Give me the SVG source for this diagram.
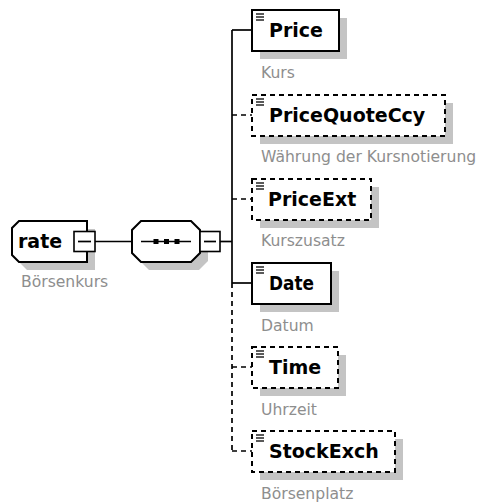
<svg xmlns="http://www.w3.org/2000/svg" width="484" height="504" viewBox="0 0 484 504">
  <style>
    .shadow { fill: #c4c4c4; stroke: none; }
    .box { fill: #ffffff; stroke: #000000; stroke-width: 2; }
    .opt { fill: #ffffff; stroke: #000000; stroke-width: 2; stroke-dasharray: 5 4; }
    .line { fill: none; stroke: #000000; stroke-width: 1.7; }
    .dash { fill: none; stroke: #000000; stroke-width: 1.7; stroke-dasharray: 5 4; }
    .name { font-family: "DejaVu Sans", Verdana, sans-serif; font-weight: bold; font-size: 19px; fill: #000000; }
    .doc { font-family: "DejaVu Sans", Verdana, sans-serif; font-size: 15.6px; fill: #8e8e8e; }
    .icon { stroke: #000000; stroke-width: 1.3; }
  </style>
  <defs>
    <g id="icon-lines">
      <line class="icon" x1="0" y1="0" x2="8" y2="0"/>
      <line class="icon" x1="0" y1="3" x2="8" y2="3"/>
      <line class="icon" x1="0" y1="6" x2="8" y2="6"/>
    </g>
  </defs>

  <!-- connectors -->
  <g id="connectors">
    <line class="line" x1="95" y1="241.5" x2="132" y2="241.5"/>
    <line class="line" x1="220" y1="241.5" x2="232" y2="241.5"/>
    <line class="line" x1="232" y1="30" x2="232" y2="283"/>
    <line class="dash" x1="232" y1="283" x2="232" y2="451"/>
    <line class="line" x1="232" y1="30" x2="252" y2="30"/>
    <line class="dash" x1="232" y1="115" x2="252" y2="115"/>
    <line class="dash" x1="232" y1="199" x2="252" y2="199"/>
    <line class="line" x1="232" y1="283" x2="252" y2="283"/>
    <line class="dash" x1="232" y1="367" x2="252" y2="367"/>
    <line class="dash" x1="232" y1="451" x2="252" y2="451"/>
  </g>

  <!-- root element -->
  <g id="node-rate">
    <path class="shadow" d="M27,229 H95 V270 H27 L20,263 V236 Z"/>
    <path class="box" d="M19,221 H87 V262 H19 L12,255 V228 Z"/>
    <text class="name" x="18" y="248">rate</text>
    <rect x="74" y="231.5" width="21" height="20" fill="#ffffff" stroke="#000000" stroke-width="1.6"/>
    <line class="line" x1="78" y1="241.5" x2="91" y2="241.5"/>
    <text class="doc" x="21" y="287">Börsenkurs</text>
  </g>

  <!-- sequence compositor -->
  <g id="node-sequence">
    <path class="shadow" d="M149,229 H199 L208,238 V261 L199,270 H149 L140,261 V238 Z"/>
    <path class="box" d="M141,221 H191 L200,230 V253 L191,262 H141 L132,253 V230 Z"/>
    <line class="line" x1="141" y1="241.5" x2="191" y2="241.5"/>
    <rect x="153.5" y="239" width="5" height="5" fill="#000000"/>
    <rect x="164" y="239" width="5" height="5" fill="#000000"/>
    <rect x="174.5" y="239" width="5" height="5" fill="#000000"/>
    <rect x="200" y="231.5" width="20" height="20" fill="#ffffff" stroke="#000000" stroke-width="1.6"/>
    <line class="line" x1="204" y1="241.5" x2="216" y2="241.5"/>
  </g>

  <!-- child elements -->
  <g id="node-Price">
    <rect class="shadow" x="260" y="18" width="87" height="41"/>
    <rect class="box" x="252" y="10" width="87" height="41"/>
    <use href="#icon-lines" x="256" y="14"/>
    <text class="name" x="269" y="37">Price</text>
    <text class="doc" x="261" y="78">Kurs</text>
  </g>

  <g id="node-PriceQuoteCcy">
    <rect class="shadow" x="260" y="103" width="193" height="41"/>
    <rect class="opt" x="252" y="95" width="193" height="41"/>
    <use href="#icon-lines" x="256" y="99"/>
    <text class="name" x="269" y="122">PriceQuoteCcy</text>
    <text class="doc" x="261" y="162">Währung der Kursnotierung</text>
  </g>

  <g id="node-PriceExt">
    <rect class="shadow" x="260" y="187" width="119" height="41"/>
    <rect class="opt" x="252" y="179" width="119" height="41"/>
    <use href="#icon-lines" x="256" y="183"/>
    <text class="name" x="268" y="206">PriceExt</text>
    <text class="doc" x="261" y="246">Kurszusatz</text>
  </g>

  <g id="node-Date">
    <rect class="shadow" x="260" y="271" width="79" height="41"/>
    <rect class="box" x="252" y="263" width="79" height="41"/>
    <use href="#icon-lines" x="256" y="267"/>
    <text class="name" x="269" y="290" textLength="45" lengthAdjust="spacingAndGlyphs">Date</text>
    <text class="doc" x="261" y="331">Datum</text>
  </g>

  <g id="node-Time">
    <rect class="shadow" x="260" y="355" width="86" height="41"/>
    <rect class="opt" x="252" y="347" width="86" height="41"/>
    <use href="#icon-lines" x="256" y="351"/>
    <text class="name" x="269" y="374">Time</text>
    <text class="doc" x="261" y="415">Uhrzeit</text>
  </g>

  <g id="node-StockExch">
    <rect class="shadow" x="260" y="439" width="143" height="41"/>
    <rect class="opt" x="252" y="431" width="143" height="41"/>
    <use href="#icon-lines" x="256" y="435"/>
    <text class="name" x="269" y="458">StockExch</text>
    <text class="doc" x="261" y="499">Börsenplatz</text>
  </g>
</svg>
